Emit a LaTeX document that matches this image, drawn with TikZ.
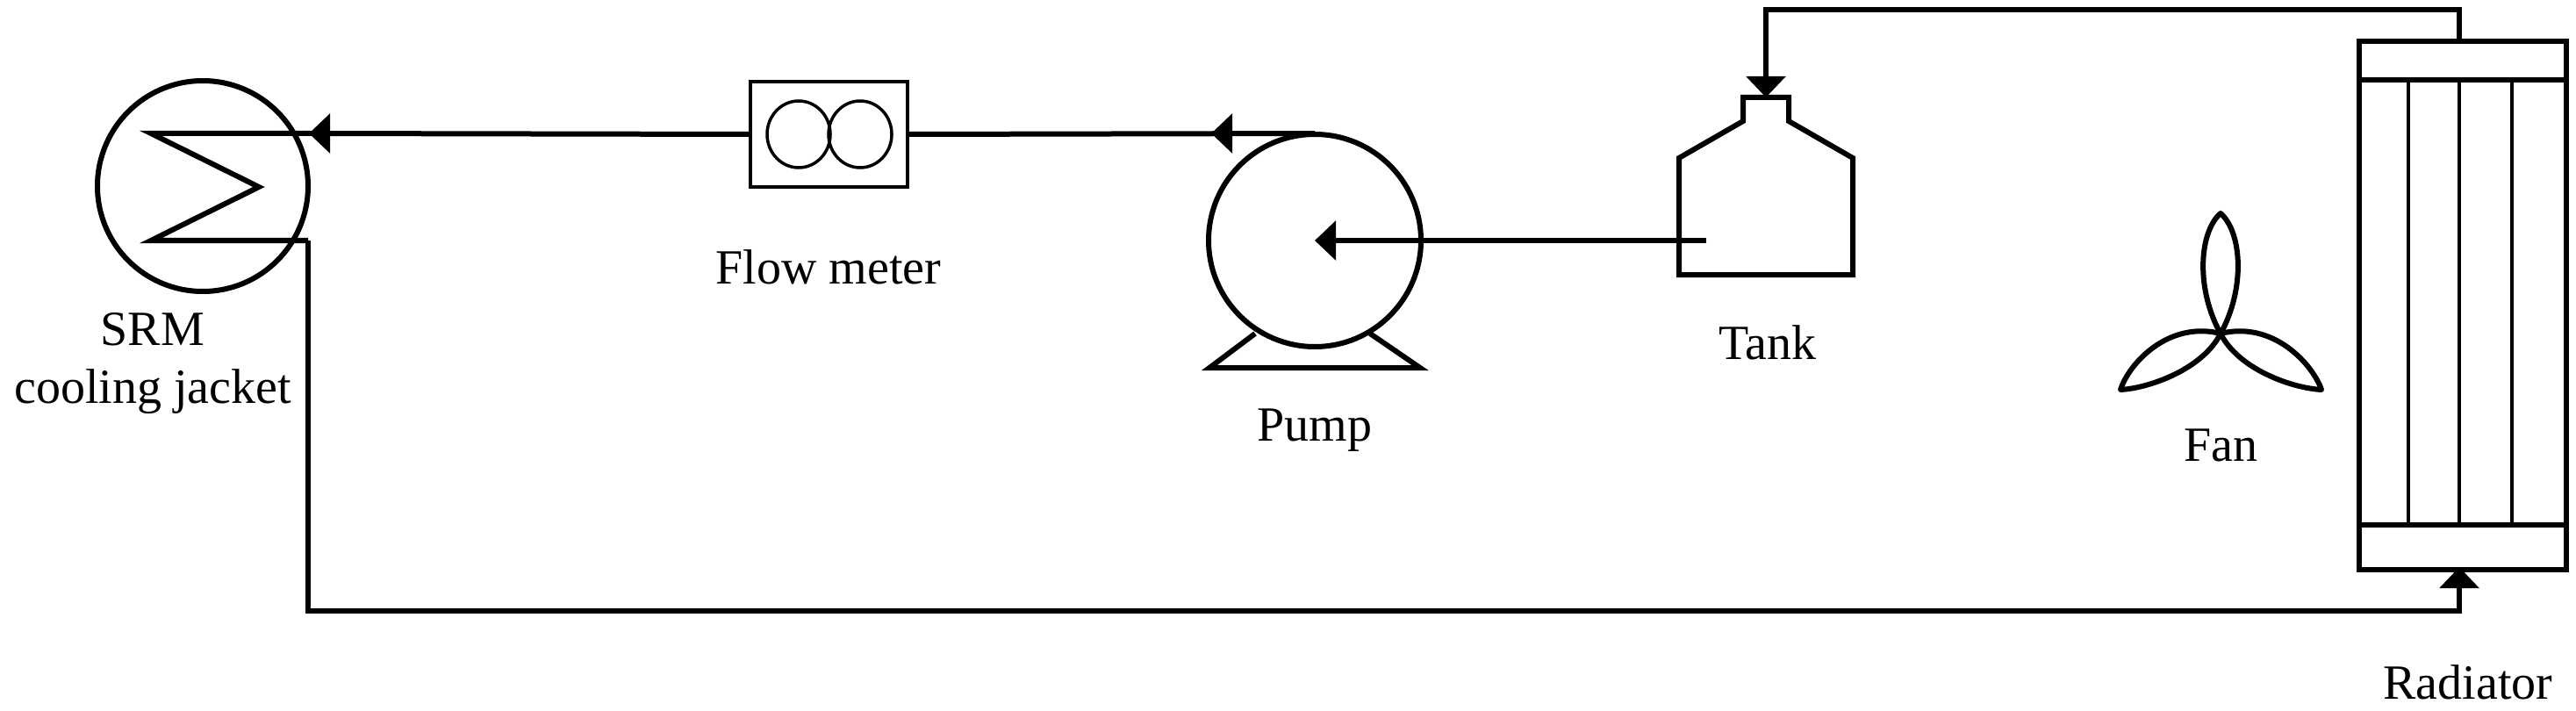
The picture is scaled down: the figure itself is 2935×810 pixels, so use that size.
\documentclass[tikz,border=0pt]{standalone}
\usepackage{fontspec}
\setmainfont{Liberation Serif}
\usetikzlibrary{arrows.meta}
\begin{document}
\begin{tikzpicture}[x=1pt,y=-1pt,
  pipe/.style={line width=6pt},
  thin/.style={line width=3.5pt},
  flow/.style={pipe,-{Triangle[length=24pt,width=44pt]}},
  lbl/.style={font=\fontsize{56}{66}\selectfont,inner sep=0pt,align=center},
  line join=miter]
\useasboundingbox (0,0) rectangle (2935,810);
% SRM jacket
\node[draw,pipe,circle,minimum size=240pt,inner sep=0pt] (srm) at (231,212) {};
\coordinate (ztop) at (172,152);
\coordinate (zmid) at (295,213);
\coordinate (zbot) at (172,274);
\coordinate (jout) at (351,274);
\coordinate (jin) at (354,152);
\draw[pipe] (jin) -- (ztop) -- (zmid) -- (zbot) -- (jout);
\node[lbl] (srmlbl) at (174,414) {SRM\\cooling jacket};
% flow meter
\node[draw,thin,minimum width=179pt,minimum height=120pt,inner sep=0pt] (fm) at (944.5,153) {};
\draw[thin] (910,153) circle[x radius=36, y radius=38];
\draw[thin] (980,153) circle[x radius=36, y radius=38];
\node[lbl] (fmlbl) at (944,304) {Flow meter};
% pump
\node[draw,pipe,circle,minimum size=242pt,inner sep=0pt] (pump) at (1498,274) {};
\coordinate (ptop) at (1498,152);
\draw[pipe] (1430,380) -- (1378,419) -- (1618,419) -- (1561,380);
\node[lbl] (pumplbl) at (1498,490) {Pump};
% tank
\coordinate (tin) at (1944,274);
\draw[pipe] (1913,180) -- (1913,313) -- (2111,313) -- (2111,180) -- (2038,138) -- (2038,111) -- (1986,111) -- (1986,138) -- cycle;
\coordinate (ttop) at (2012,111);
\node[lbl] (tanklbl) at (2014,390) {Tank};
% fan
\coordinate (fc) at (2530,380);
\draw[pipe,line join=round] (fc) .. controls (2502,330) and (2505,265) .. (2530,243) .. controls (2555,265) and (2558,330) .. (fc);
\draw[pipe,line join=round] (fc) .. controls (2470,365) and (2425,415) .. (2416,444) .. controls (2450,442) and (2510,420) .. (fc);
\draw[pipe,line join=round] (fc) .. controls (2590,365) and (2635,415) .. (2645,444) .. controls (2610,442) and (2550,420) .. (fc);
\node[lbl] (fanlbl) at (2530,507) {Fan};
% radiator
\node[draw,pipe,minimum width=236pt,minimum height=602pt,inner sep=0pt,anchor=north west] (rad) at (2685,44) {};
\draw[pipe] (2685,91) -- (2921,91);
\draw[pipe] (2685,598) -- (2921,598);
\foreach \x in {2744,2802,2862} \draw[thin] (\x,91) -- (\x,598);
\coordinate (rtop) at (2802,44);
\coordinate (rbot) at (2802,646);
\node[lbl] (radlbl) at (2812,777) {Radiator};
% pipes
\draw[flow] (rtop) -- (2802,11) -- (2012,11) -- (ttop);
\draw[flow] (tin) -- (pump.center);
\draw[pipe] (ptop) -- (fm.east);
\draw[pipe] (fm.west) -- (jin);
\draw[pipe,-{Triangle[length=24pt,width=44pt]}] (1420,152) -- (1380,152);
\draw[pipe,-{Triangle[length=24pt,width=44pt]}] (390,152) -- (352,152);
\draw[flow] (jout) -- (351,696) -- (2802,696) -- (rbot);
\end{tikzpicture}
\end{document}
